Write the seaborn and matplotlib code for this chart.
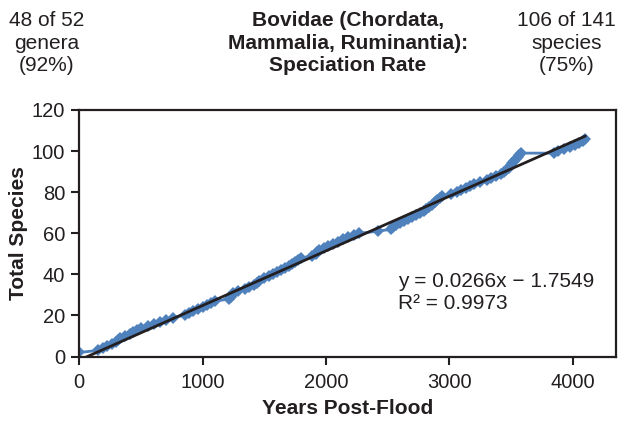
#Packages
import numpy as np
import pandas as pd
import matplotlib
matplotlib.use("Agg")
import matplotlib.pyplot as plt
import seaborn as sns

#Cumulative species count vs years post-flood
years = [0, 154, 195, 229, 265, 295, 316, 330, 375, 410,
         440, 470, 504, 560, 610, 655, 700, 760, 854, 890,
         925, 962, 1000, 1035, 1065, 1097, 1218, 1228, 1237, 1245,
         1290, 1340, 1380, 1420, 1440, 1461, 1500, 1540, 1568, 1600,
         1635, 1670, 1703, 1725, 1748, 1772, 1798, 1890, 1915, 1930,
         1946, 1985, 2020, 2055, 2094, 2140, 2180, 2225, 2269, 2420,
         2530, 2545, 2566, 2600, 2630, 2665, 2695, 2727, 2760, 2790,
         2812, 2835, 2860, 2880, 2900, 2920, 2943, 3010, 3060, 3091,
         3130, 3165, 3199, 3250, 3300, 3340, 3380, 3415, 3440, 3460,
         3480, 3495, 3508, 3525, 3540, 3555, 3565, 3576, 3846, 3880,
         3930, 3980, 4020, 4050, 4080, 4101]
species = [2, 3, 4, 5, 6, 7, 8, 9, 10, 11,
           12, 13, 14, 15, 16, 17, 18, 19, 20, 21,
           22, 23, 24, 25, 26, 27, 28, 29, 30, 31,
           32, 33, 34, 35, 36, 37, 38, 39, 40, 41,
           42, 43, 44, 45, 46, 47, 48, 49, 50, 51,
           52, 53, 54, 55, 56, 57, 58, 59, 60, 61,
           62, 63, 64, 65, 66, 67, 68, 69, 70, 71,
           72, 73, 74, 75, 76, 77, 78, 79, 80, 81,
           82, 83, 84, 85, 86, 87, 88, 89, 90, 91,
           92, 93, 94, 95, 96, 97, 98, 99, 99, 100,
           101, 102, 103, 104, 105, 106]

#Trendline as printed on the chart
slope = 0.0266
intercept = -1.7549
r_squared = 0.9973

x_ticks = [0, 1000, 2000, 3000, 4000]
y_ticks = [0, 20, 40, 60, 80, 100, 120]

df = pd.DataFrame({'Years': years, 'Species': species})
trend_x = np.array([min(years), max(years)], dtype=float)
trend = pd.DataFrame({'Years': trend_x, 'Species': slope * trend_x + intercept})

sns.set_theme(style='ticks')
plt.rcParams['font.family'] = ['Liberation Sans', 'DejaVu Sans']
ink = '#231f20'
blue = '#4f81bd'

fig = plt.figure(figsize=(6.18, 4.23), dpi=100)
ax = fig.add_axes([0.128, 0.157, 0.869, 0.583])

#Data line with diamond markers
sns.lineplot(data=df, x='Years', y='Species', ax=ax, color=blue, lw=2,
             marker='D', markersize=6, markeredgewidth=0, estimator=None,
             sort=False)

#Linear trendline
sns.lineplot(data=trend, x='Years', y='Species', ax=ax, color=ink, lw=2,
             estimator=None, sort=False)

ax.set_xlim(0, 4350)
ax.set_ylim(0, 120)
ax.set_xticks(x_ticks)
ax.set_yticks(y_ticks)
ax.tick_params(axis='both', labelsize=14.5, colors=ink, length=6, width=1.5)
ax.tick_params(axis='x', pad=6)
ax.tick_params(axis='y', pad=4)
for s in ax.spines.values():
    s.set_linewidth(1.6)
    s.set_color(ink)

ax.set_xlabel('Years Post-Flood', fontsize=15, fontweight='bold', color=ink, labelpad=5)
ax.set_ylabel('Total Species', fontsize=15, fontweight='bold', color=ink, labelpad=3)

ax.text(0.593, 0.26, f'y = {slope}x \u2212 {abs(intercept)}\nR\u00b2 = {r_squared}',
        transform=ax.transAxes, fontsize=15, color=ink, ha='left', va='center',
        linespacing=1.2)

#Header texts
fig.text(0.5625, 0.898, 'Bovidae (Chordata,\nMammalia, Ruminantia):\nSpeciation Rate',
         fontsize=15, fontweight='bold', color=ink, ha='center', va='center', linespacing=1.25)
fig.text(0.075, 0.898, '48 of 52\ngenera\n(92%)', fontsize=15, color=ink,
         ha='center', va='center', linespacing=1.25)
fig.text(0.917, 0.898, '106 of 141\nspecies\n(75%)', fontsize=15, color=ink,
         ha='center', va='center', linespacing=1.25)

fig.savefig('out.png', dpi=100)
